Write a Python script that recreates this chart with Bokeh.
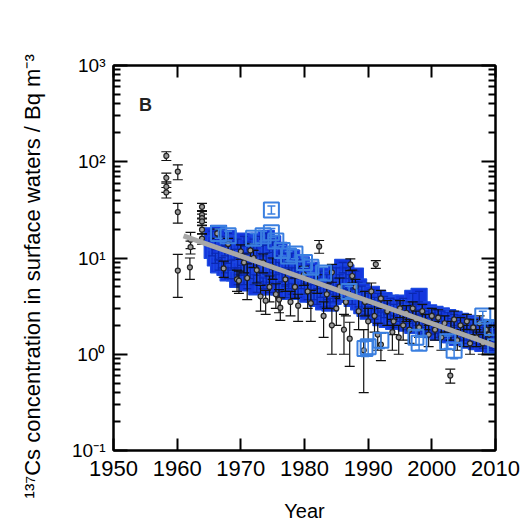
import numpy as np
from bokeh.plotting import figure
from bokeh.models import (ColumnDataSource, LinearAxis, LogAxis, FixedTicker, Label,
                          CustomJSTickFormatter, Range1d)
from bokeh.embed import file_html
from bokeh.resources import INLINE

# ---------------- data ----------------
black_year = [1958.3, 1958.3, 1958.3, 1958.3, 1960.1, 1960.1, 1960.1, 1962.0, 1962.1, 1962.1,
              1963.9, 1963.9, 1963.9, 1963.9, 1963.9, 1963.9, 1966.3, 1967.3, 1968.0, 1969.4,
              1969.7, 1970.0, 1970.5, 1971.0, 1971.5, 1972.0, 1972.5, 1973.1, 1973.5, 1973.9,
              1974.5, 1975.0, 1975.5, 1976.0, 1976.2, 1977.0, 1977.8, 1978.5, 1979.0, 1979.9,
              1980.5, 1981.0, 1982.3, 1982.0, 1983.0, 1983.5, 1984.3, 1984.3, 1985.0, 1985.5,
              1986.2, 1986.5, 1987.1, 1987.2, 1987.5, 1988.0, 1988.5, 1989.3, 1989.5, 1990.0,
              1990.5, 1991.2, 1991.0, 1991.5, 1992.0, 1992.0, 1993.0, 1993.8, 1994.0, 1994.8,
              1995.0, 1995.5, 1996.0, 1996.5, 1997.0, 1997.5, 1998.0, 1998.5, 1999.0, 1999.5,
              2000.0, 2000.5, 2001.0, 2001.5, 2002.0, 2002.9, 2003.0, 2003.5, 2004.0, 2004.5,
              2005.0, 2005.5, 2006.0, 2006.5, 2007.0, 2007.5, 2008.0, 2008.5, 2009.0]
black_value = [115, 68, 55, 48, 79, 30, 7.4, 8.0, 15.5, 13,
               34, 28, 26, 24, 19.7, 15.9, 18, 7.8, 14, 6.0,
               5.8, 11.7, 9, 6.2, 12, 10, 7.5, 4.0, 9, 3.6,
               5, 8, 4.2, 3.7, 3.05, 6, 3.5, 5, 3.2, 6.7,
               4.5, 3.4, 13.2, 5.5, 2.5, 4.2, 2.0, 7.1, 3.0, 5,
               1.8, 3.5, 1.45, 8.6, 6.5, 5, 2.8, 1.1, 3.5, 2.2,
               4.5, 8.6, 2.5, 1.6, 1.26, 3.8, 2.8, 1.7, 2.2, 1.5,
               3.0, 2.0, 2.7, 1.8, 3.0, 2.3, 1.9, 2.8, 2.2, 1.6,
               2.5, 1.8, 2.4, 1.5, 2.1, 0.60, 1.8, 2.3, 1.4, 2.0,
               1.6, 2.2, 1.3, 1.9, 1.5, 2.1, 1.3, 1.8, 1.6]
black_err = [12, 8, 7, 6, 14, 7, 3.5, 2.0, 3, 2,
             3, 2.5, 2.5, 2, 2, 2, 2, 1.5, 2, 1.5,
             1.5, 2, 2, 2.5, 2, 2, 2, 1.2, 2, 1,
             1.5, 2, 1.2, 1, 0.8, 1.5, 1, 1.2, 1, 1.5,
             1.5, 1.2, 2, 1.2, 1, 1.2, 1, 1.5, 1, 1.2,
             0.8, 1, 0.7, 1.2, 1, 1, 1, 0.7, 1, 0.8,
             1, 0.8, 0.8, 0.5, 0.4, 0.8, 0.8, 0.6, 0.6, 0.5,
             0.6, 0.6, 0.5, 0.5, 0.5, 0.5, 0.4, 0.5, 0.4, 0.4,
             0.5, 0.4, 0.5, 0.4, 0.4, 0.1, 0.4, 0.5, 0.3, 0.4,
             0.4, 0.4, 0.3, 0.4, 0.3, 0.4, 0.3, 0.4, 0.3]

blue_year = [1965.5, 1965.5, 1966.0, 1966.0, 1966.5, 1966.5, 1966.5, 1967.0, 1967.0, 1967.5,
             1967.5, 1968.0, 1968.0, 1968.0, 1968.5, 1968.5, 1969.0, 1969.0, 1969.5, 1969.5,
             1969.5, 1970.0, 1970.0, 1970.5, 1970.5, 1970.5, 1971.0, 1971.0, 1971.0, 1971.5,
             1971.5, 1972.0, 1972.0, 1972.0, 1972.5, 1972.5, 1972.5, 1973.0, 1973.0, 1973.0,
             1973.5, 1973.5, 1973.5, 1974.0, 1974.0, 1974.0, 1974.5, 1974.5, 1974.5, 1975.0,
             1975.0, 1975.0, 1975.5, 1975.5, 1976.0, 1976.0, 1976.0, 1976.5, 1976.5, 1977.0,
             1977.0, 1977.0, 1977.5, 1977.5, 1978.0, 1978.0, 1978.0, 1978.5, 1978.5, 1979.0,
             1979.0, 1979.5, 1979.5, 1980.0, 1980.0, 1980.5, 1980.5, 1981.0, 1981.0, 1981.5,
             1981.5, 1982.0, 1982.0, 1982.5, 1982.5, 1983.0, 1983.0, 1983.5, 1983.5, 1984.0,
             1984.0, 1984.5, 1984.5, 1985.0, 1985.0, 1985.5, 1985.5, 1986.0, 1986.0, 1986.5,
             1986.5, 1987.0, 1987.0, 1987.5, 1987.5, 1988.0, 1988.0, 1988.5, 1988.5, 1989.0,
             1989.0, 1989.5, 1989.5, 1990.0, 1990.0, 1990.5, 1990.5, 1991.0, 1991.0, 1991.5,
             1991.5, 1992.0, 1992.0, 1992.5, 1992.5, 1993.0, 1993.0, 1993.5, 1993.5, 1994.0,
             1994.0, 1994.5, 1994.5, 1995.0, 1995.0, 1995.5, 1995.5, 1996.0, 1996.0, 1996.5,
             1996.5, 1997.0, 1997.0, 1997.0, 1997.5, 1997.5, 1998.0, 1998.0, 1998.0, 1998.5,
             1998.5, 1999.0, 1999.0, 1999.5, 1999.5, 2000.0, 2000.0, 2000.5, 2000.5, 2001.0,
             2001.0, 2001.5, 2001.5, 2002.0, 2002.0, 2002.5, 2002.5, 2003.0, 2003.0, 2003.5,
             2003.5, 2004.0, 2004.0, 2004.5, 2004.5, 2005.0, 2005.0, 2005.5, 2005.5, 2006.0,
             2006.0, 2006.5, 2006.5, 2007.0, 2007.0, 2007.5, 2007.5, 2008.0, 2008.0, 2008.5,
             2008.5, 2009.0, 2009.0, 2009.5, 2009.5, 2010.0, 2010.0]
blue_value = [17, 12, 14, 10, 18, 11, 8.5, 15, 9, 12,
              8, 16, 10, 7, 13, 8.5, 11, 7, 14, 9,
              6, 12, 7.5, 10, 6, 15, 13, 8, 5.5, 11,
              7, 14, 9, 6, 12, 7.5, 5, 15, 10, 6.5,
              12, 8, 5.5, 16, 10, 6, 13, 8, 5, 11,
              7, 14, 9, 6, 12, 8, 5, 10, 6.5, 9,
              6, 4.5, 8, 5.5, 10, 7, 4.8, 8, 5.5, 7,
              4.5, 8.5, 5.5, 7, 4.8, 6, 4.2, 7.5, 5, 6,
              4.2, 5.5, 3.8, 6.5, 4.5, 5, 3.5, 6, 4.2, 4.8,
              3.4, 5.5, 4, 7, 4.5, 6, 4.2, 8, 5.5, 7,
              4.8, 6, 4.2, 5.5, 3.8, 6.5, 4.5, 5, 3.5, 4.5,
              3.2, 4, 3.0, 3.8, 2.8, 4.2, 3.0, 3.5, 2.6, 3.8,
              2.8, 3.2, 2.4, 3.6, 2.7, 3.0, 2.3, 3.4, 2.5, 2.9,
              2.2, 3.3, 2.5, 3.0, 2.3, 3.4, 2.6, 2.8, 2.1, 3.1,
              2.4, 3.8, 2.7, 2.0, 3.0, 2.3, 4.0, 2.6, 2.0, 2.9,
              2.2, 2.5, 1.9, 2.7, 2.0, 2.4, 1.8, 2.6, 1.9, 2.3,
              1.7, 2.5, 1.8, 2.2, 1.7, 2.4, 1.6, 2.1, 1.6, 2.3,
              1.7, 2.0, 1.5, 2.2, 1.6, 1.9, 1.5, 2.1, 1.6, 1.8,
              1.4, 2.0, 1.5, 1.8, 1.35, 1.9, 1.45, 1.7, 1.3, 1.8,
              1.4, 1.7, 1.3, 1.6, 1.25, 1.6, 1.3]
blue_err = [2, 1.5, 1.8, 1.2, 2, 1.3, 1, 1.8, 1.1, 1.5,
            1, 2, 1.2, 0.9, 1.6, 1, 1.3, 0.9, 1.7, 1.1,
            0.7, 1.5, 0.9, 1.2, 0.7, 1.8, 1.6, 1, 0.7, 1.3,
            0.9, 1.7, 1.1, 0.7, 1.5, 0.9, 0.6, 1.8, 1.2, 0.8,
            1.5, 1, 0.7, 2, 1.2, 0.7, 1.6, 1, 0.6, 1.3,
            0.9, 1.7, 1.1, 0.7, 1.5, 1, 0.6, 1.2, 0.8, 1.1,
            0.7, 0.6, 1, 0.7, 1.2, 0.9, 0.6, 1, 0.7, 0.9,
            0.6, 1, 0.7, 0.9, 0.6, 0.7, 0.5, 0.9, 0.6, 0.7,
            0.5, 0.7, 0.5, 0.8, 0.6, 0.6, 0.4, 0.7, 0.5, 0.6,
            0.4, 0.7, 0.5, 0.9, 0.6, 0.7, 0.5, 1, 0.7, 0.9,
            0.6, 0.7, 0.5, 0.7, 0.5, 0.8, 0.6, 0.6, 0.4, 0.6,
            0.4, 0.5, 0.4, 0.5, 0.3, 0.5, 0.4, 0.4, 0.3, 0.5,
            0.3, 0.4, 0.3, 0.4, 0.3, 0.4, 0.3, 0.4, 0.3, 0.4,
            0.3, 0.4, 0.3, 0.4, 0.3, 0.4, 0.3, 0.3, 0.3, 0.4,
            0.3, 0.5, 0.3, 0.25, 0.4, 0.3, 0.5, 0.3, 0.25, 0.35,
            0.3, 0.3, 0.25, 0.3, 0.25, 0.3, 0.2, 0.3, 0.25, 0.3,
            0.2, 0.3, 0.2, 0.3, 0.2, 0.3, 0.2, 0.25, 0.2, 0.3,
            0.2, 0.25, 0.2, 0.3, 0.2, 0.25, 0.2, 0.25, 0.2, 0.2,
            0.2, 0.25, 0.2, 0.2, 0.15, 0.25, 0.2, 0.2, 0.15, 0.2,
            0.2, 0.2, 0.15, 0.2, 0.15, 0.2, 0.15]

blue_open_year = [1966.5, 1968.0, 1972.0, 1973.5, 1974.8, 1974.8, 1975.5, 1976.5, 1977.5, 1978.5,
                  1980.0, 1981.0, 1983.0, 1987.0, 1989.5, 1990.0, 1992.0, 1997.5, 1998.0, 2002.5,
                  2003.5, 2008.0, 2009.5, 2010.0]
blue_open_value = [18, 17, 16, 17, 31.6, 18.3, 15, 12, 10.5, 11,
                   9, 8, 7, 4.5, 1.15, 1.2, 1.4, 1.5, 1.3, 1.35,
                   1.1, 2.5, 1.9, 1.2]
blue_open_err = [2, 2, 2, 2, 3, 2, 2, 1.5, 1.2, 1.2,
                 1, 1, 1, 0.6, 0.2, 0.2, 0.25, 0.25, 0.2, 0.2,
                 0.2, 0.3, 0.3, 0.2]

fit_year = [1961.0, 2010.0]
fit_value = [17.0, 1.22]

x_ticks = [1950, 1960, 1970, 1980, 1990, 2000, 2010]
y_exponents = [-1, 0, 1, 2, 3]
panel_label = "B"
y_title = "\u00b9\u00b3\u2077Cs concentration in surface waters / Bq m\u207b\u00b3"
x_title = "Year"

# ---------------- figure ----------------
FONT = "Liberation Sans"
p = figure(width=523, height=524, x_range=Range1d(1950, 2010), y_range=Range1d(0.1, 1000),
           y_axis_type="log", output_backend="svg", toolbar_location=None,
           min_border_left=113, min_border_right=28, min_border_top=65, min_border_bottom=72)
p.grid.visible = False
p.outline_line_color = "black"
p.outline_line_width = 2
p.background_fill_color = "white"
p.border_fill_color = "white"

y_major = [10.0 ** e for e in y_exponents]
y_minor = [m * 10.0 ** e for e in y_exponents[:-1] for m in range(2, 10)]
empty = CustomJSTickFormatter(code="return ''")
pow_fmt = CustomJSTickFormatter(code="""
const sup = {"-": "\u207b", "0": "\u2070", "1": "\u00b9", "2": "\u00b2", "3": "\u00b3"};
const e = Math.round(Math.log10(tick));
return "10" + String(e).split("").map(c => sup[c]).join("");
""")

# bottom axis
xa = p.xaxis[0]
xa.ticker = FixedTicker(ticks=x_ticks, minor_ticks=[])
xa.major_tick_in = 12
xa.major_tick_out = 0
xa.minor_tick_in = 0
xa.minor_tick_out = 0
xa.major_tick_line_width = 2
xa.axis_line_width = 2
xa.major_label_text_font = FONT
xa.major_label_text_font_size = "22px"
xa.major_label_text_color = "black"
xa.major_label_standoff = 10
xa.axis_label = x_title
xa.axis_label_text_font = FONT
xa.axis_label_text_font_size = "20px"
xa.axis_label_text_font_style = "normal"
xa.axis_label_text_color = "black"
xa.axis_label_standoff = 21

# left axis
ya = p.yaxis[0]
ya.ticker = FixedTicker(ticks=y_major, minor_ticks=y_minor)
ya.formatter = pow_fmt
ya.major_tick_in = 14
ya.major_tick_out = 0
ya.minor_tick_in = 7
ya.minor_tick_out = 0
ya.major_tick_line_width = 2
ya.minor_tick_line_width = 2
ya.axis_line_width = 2
ya.major_label_standoff = 8
ya.major_label_text_font = FONT
ya.major_label_text_font_size = "19px"
ya.major_label_text_color = "black"
# trailing no-break spaces shift the centred title down, as in the reference
ya.axis_label = y_title + "\u00a0" * 6
ya.axis_label_text_font = FONT
ya.axis_label_text_font_size = "22px"
ya.axis_label_text_font_style = "normal"
ya.axis_label_text_color = "black"
ya.axis_label_standoff = 24

# mirrored axes
top = LinearAxis(ticker=FixedTicker(ticks=x_ticks, minor_ticks=[]), formatter=empty,
                 major_tick_in=12, major_tick_out=0, minor_tick_in=0, minor_tick_out=0,
                 major_tick_line_width=2, axis_line_width=2, major_label_standoff=0)
p.add_layout(top, "above")
right = LogAxis(ticker=FixedTicker(ticks=y_major, minor_ticks=y_minor), formatter=empty,
                major_tick_in=14, major_tick_out=0, minor_tick_in=7, minor_tick_out=0,
                major_tick_line_width=2, minor_tick_line_width=2, axis_line_width=2,
                major_label_standoff=0)
p.add_layout(right, "right")

# panel label
p.add_layout(Label(x=1954.0, y=386, text=panel_label, text_align="left", text_baseline="middle",
                   text_font=FONT, text_font_size="18px", text_font_style="bold",
                   text_color="#222222"))


def series_source(xs, ys, es):
    xs = np.asarray(xs, float)
    ys = np.asarray(ys, float)
    es = np.asarray(es, float)
    return ColumnDataSource(dict(x=xs, y=ys, lo=ys - es, hi=ys + es))


def error_bars(src, color, cap, width):
    p.segment(x0="x", y0="lo", x1="x", y1="hi", source=src, line_color=color, line_width=width)
    p.scatter(x="x", y="lo", source=src, marker="dash", size=cap, line_color=color, line_width=width)
    p.scatter(x="x", y="hi", source=src, marker="dash", size=cap, line_color=color, line_width=width)


blue_src = series_source(blue_year, blue_value, blue_err)
black_src = series_source(black_year, black_value, black_err)
open_src = series_source(blue_open_year, blue_open_value, blue_open_err)

# filled blue squares
p.scatter(x="x", y="y", source=blue_src, marker="square", size=16, fill_color="#1436de",
          line_color="#1c4be0", line_width=1.2)
error_bars(blue_src, "#0a28b0", 8, 1.2)

# black circles
error_bars(black_src, "#111111", 10, 1.2)
p.scatter(x="x", y="y", source=black_src, marker="circle", size=5, fill_color="#9a9a9a",
          line_color="#222222", line_width=1.2)

# open blue squares
p.scatter(x="x", y="y", source=open_src, marker="square", size=15, fill_color=None,
          line_color="#3a7fe0", line_width=2)
error_bars(open_src, "#3a7fe0", 8, 1.5)

# regression line
p.line(x=fit_year, y=fit_value, line_width=5, line_color="#a8a8a8")

open("out.html", "w").write(file_html(p, INLINE))
